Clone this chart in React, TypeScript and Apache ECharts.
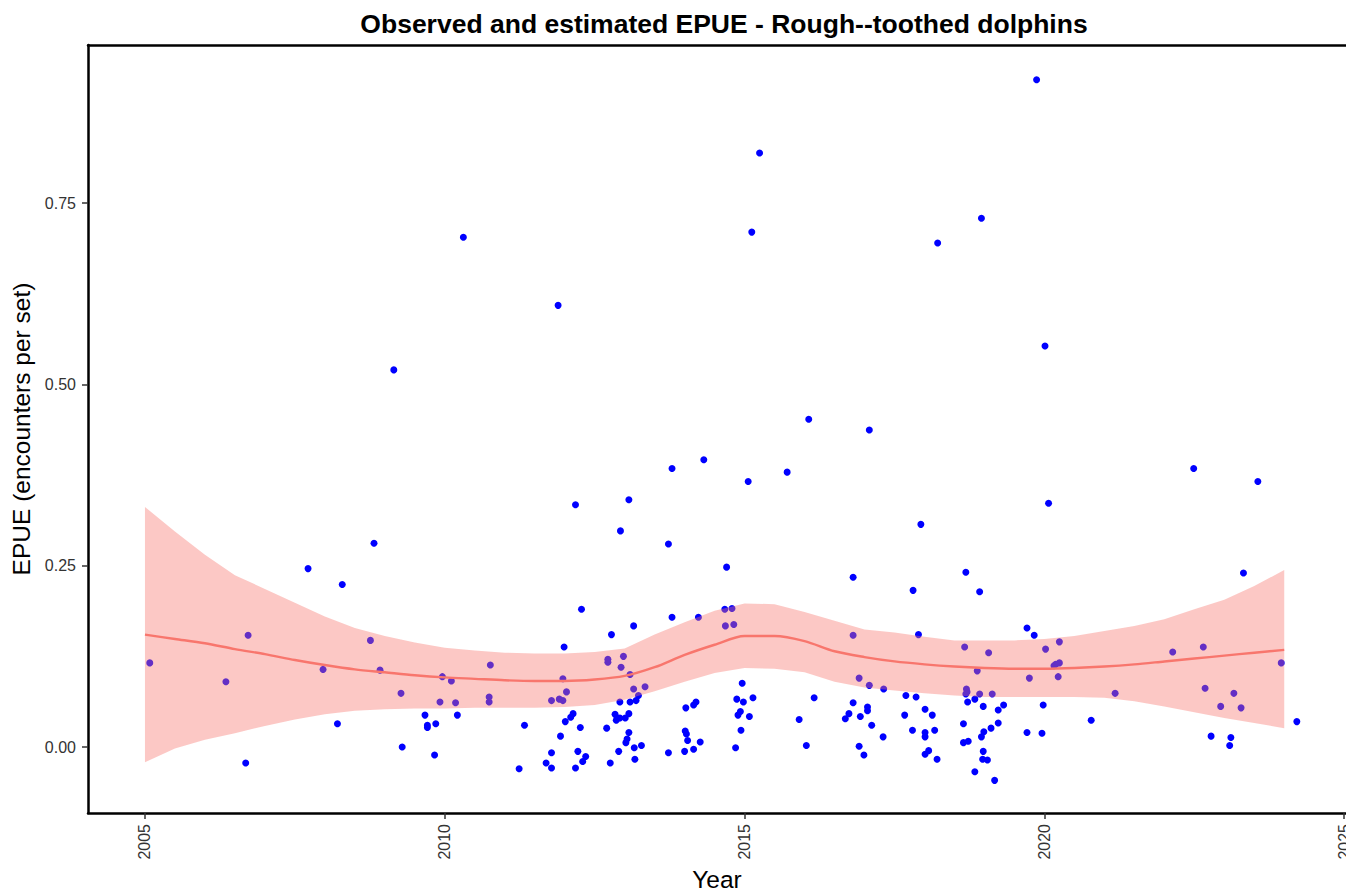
import React, { useEffect, useRef } from "react";
import * as echarts from "echarts";

const TITLE = "Observed and estimated EPUE - Rough--toothed dolphins";
const X_NAME = "Year";
const Y_NAME = "EPUE (encounters per set)";
const X_TICKS = [2005, 2010, 2015, 2020, 2025];
const Y_TICKS = [0, 0.25, 0.5, 0.75];

// observed EPUE points [year, value]
const OBSERVED: [number, number][] = [
  [2005.08, 0.116], [2006.35, 0.090], [2006.68, -0.022], [2006.72, 0.154],
  [2007.72, 0.246], [2007.97, 0.107], [2008.21, 0.032], [2008.29, 0.224],
  [2008.76, 0.147], [2008.82, 0.281], [2008.92, 0.106], [2009.15, 0.520],
  [2009.27, 0.074], [2009.29, 0.000], [2009.67, 0.044], [2009.71, 0.030],
  [2009.71, 0.027], [2009.83, -0.011], [2009.85, 0.032], [2009.92, 0.062],
  [2009.96, 0.097], [2010.11, 0.091], [2010.18, 0.061], [2010.21, 0.044],
  [2010.31, 0.703], [2010.74, 0.069], [2010.74, 0.062], [2010.76, 0.113],
  [2011.24, -0.030], [2011.33, 0.030], [2011.69, -0.022], [2011.78, 0.064],
  [2011.78, -0.008], [2011.78, -0.029], [2011.89, 0.609], [2011.91, 0.066],
  [2011.93, 0.015], [2011.97, 0.094], [2011.97, 0.064], [2011.99, 0.138],
  [2012.01, 0.035], [2012.03, 0.076], [2012.10, 0.041], [2012.14, 0.046],
  [2012.18, 0.334], [2012.18, -0.029], [2012.22, -0.006], [2012.26, 0.027],
  [2012.28, 0.190], [2012.30, -0.020], [2012.35, -0.013], [2012.70, 0.026],
  [2012.72, 0.121], [2012.72, 0.117], [2012.76, -0.022], [2012.78, 0.155],
  [2012.84, 0.045], [2012.86, 0.037], [2012.90, -0.006], [2012.92, 0.062],
  [2012.92, 0.040], [2012.93, 0.298], [2012.94, 0.110], [2012.98, 0.125],
  [2013.01, 0.040], [2013.02, 0.006], [2013.04, 0.011], [2013.07, 0.341],
  [2013.07, 0.046], [2013.07, 0.020], [2013.09, 0.100], [2013.09, 0.062],
  [2013.15, 0.167], [2013.15, 0.080], [2013.16, -0.001], [2013.17, -0.017],
  [2013.19, 0.064], [2013.23, 0.071], [2013.28, 0.002], [2013.34, 0.083],
  [2013.73, 0.280], [2013.73, -0.008], [2013.79, 0.384], [2013.79, 0.179],
  [2014.00, -0.006], [2014.01, 0.022], [2014.02, 0.054], [2014.03, 0.018],
  [2014.05, 0.009], [2014.15, 0.058], [2014.15, -0.003], [2014.19, 0.062],
  [2014.23, 0.179], [2014.26, 0.007], [2014.32, 0.396], [2014.67, 0.190],
  [2014.68, 0.167], [2014.70, 0.248], [2014.79, 0.191], [2014.82, 0.169],
  [2014.85, -0.001], [2014.87, 0.066], [2014.89, 0.044], [2014.93, 0.049],
  [2014.94, 0.023], [2014.96, 0.088], [2014.98, 0.062], [2015.06, 0.366],
  [2015.08, 0.042], [2015.12, 0.710], [2015.14, 0.068], [2015.25, 0.819],
  [2015.71, 0.379], [2015.91, 0.038], [2016.03, 0.002], [2016.07, 0.452],
  [2016.16, 0.068], [2016.68, 0.039], [2016.74, 0.046], [2016.81, 0.234],
  [2016.81, 0.154], [2016.81, 0.061], [2016.91, 0.095], [2016.91, 0.001],
  [2016.93, 0.042], [2016.99, -0.011], [2017.05, 0.055], [2017.05, 0.050],
  [2017.08, 0.437], [2017.08, 0.085], [2017.12, 0.030], [2017.31, 0.014],
  [2017.32, 0.080], [2017.67, 0.044], [2017.69, 0.071], [2017.80, 0.023],
  [2017.81, 0.216], [2017.86, 0.069], [2017.90, 0.155], [2017.94, 0.307],
  [2018.01, 0.052], [2018.01, 0.020], [2018.01, 0.014], [2018.01, -0.010],
  [2018.07, -0.005], [2018.13, 0.044], [2018.17, 0.023], [2018.21, -0.017],
  [2018.22, 0.695], [2018.65, 0.032], [2018.65, 0.006], [2018.67, 0.138],
  [2018.69, 0.241], [2018.70, 0.080], [2018.71, 0.076], [2018.69, 0.073],
  [2018.72, 0.062], [2018.73, 0.008], [2018.84, 0.066], [2018.84, -0.034],
  [2018.88, 0.105], [2018.92, 0.214], [2018.92, 0.073], [2018.95, 0.729],
  [2018.95, 0.014], [2018.97, -0.017], [2018.98, 0.056], [2018.98, -0.006],
  [2018.99, 0.021], [2019.05, -0.018], [2019.07, 0.130], [2019.11, 0.026],
  [2019.13, 0.073], [2019.17, -0.046], [2019.23, 0.051], [2019.23, 0.033],
  [2019.32, 0.058], [2019.71, 0.164], [2019.71, 0.020], [2019.75, 0.095],
  [2019.83, 0.154], [2019.87, 0.920], [2019.96, 0.019], [2019.98, 0.058],
  [2020.01, 0.553], [2020.02, 0.135], [2020.07, 0.336], [2020.16, 0.112],
  [2020.19, 0.114], [2020.23, 0.097], [2020.25, 0.145], [2020.25, 0.116],
  [2020.78, 0.037], [2021.18, 0.074], [2022.14, 0.131], [2022.49, 0.384],
  [2022.65, 0.138], [2022.68, 0.081], [2022.78, 0.015], [2022.94, 0.056],
  [2023.09, 0.002], [2023.11, 0.013], [2023.16, 0.074], [2023.28, 0.054],
  [2023.32, 0.240], [2023.56, 0.366], [2023.95, 0.116], [2024.21, 0.035],
];

// smoother estimate and confidence band
const FIT_YEARS = [
  2005, 2005.5, 2006, 2006.5, 2007, 2007.5, 2008, 2008.5, 2009, 2009.5,
  2010, 2010.5, 2011, 2011.5, 2012, 2012.5, 2013, 2013.5, 2014, 2014.5,
  2015, 2015.5, 2016, 2016.5, 2017, 2017.5, 2018, 2018.5, 2019, 2019.5,
  2020, 2020.5, 2021, 2021.5, 2022, 2022.5, 2023, 2023.5, 2024,
];
const FIT = [
  0.155, 0.149, 0.143, 0.135, 0.128, 0.120, 0.113, 0.107, 0.103, 0.099,
  0.096, 0.094, 0.092, 0.091, 0.091, 0.093, 0.098, 0.110, 0.127, 0.141,
  0.153, 0.153, 0.146, 0.132, 0.124, 0.118, 0.114, 0.111, 0.109, 0.108,
  0.108, 0.109, 0.111, 0.114, 0.118, 0.122, 0.126, 0.130, 0.134,
];
const UPPER = [
  0.331, 0.297, 0.265, 0.237, 0.218, 0.199, 0.180, 0.164, 0.153, 0.144,
  0.137, 0.133, 0.130, 0.129, 0.129, 0.131, 0.136, 0.155, 0.172, 0.188,
  0.198, 0.197, 0.186, 0.174, 0.162, 0.158, 0.152, 0.147, 0.147, 0.147,
  0.149, 0.153, 0.160, 0.167, 0.176, 0.190, 0.203, 0.222, 0.244,
];
const LOWER = [
  -0.021, -0.002, 0.010, 0.019, 0.029, 0.038, 0.045, 0.050, 0.052, 0.053,
  0.053, 0.054, 0.054, 0.054, 0.055, 0.058, 0.065, 0.077, 0.090, 0.102,
  0.109, 0.108, 0.103, 0.090, 0.082, 0.078, 0.074, 0.071, 0.069, 0.069,
  0.069, 0.069, 0.068, 0.063, 0.056, 0.048, 0.040, 0.033, 0.026,
];

const X_MIN = 2004.05;
const X_MAX = 2025.03;
const Y_MIN = -0.091;
const Y_MAX = 0.968;

const FONT = "'Liberation Sans', Arial, Helvetica, sans-serif";

export default function App() {
  const ref = useRef<HTMLDivElement>(null);

  useEffect(() => {
    if (!ref.current) return;
    const chart = echarts.init(ref.current, undefined, { renderer: "svg" });

    const bandData = FIT_YEARS.map((x, i) => [x, LOWER[i], UPPER[i]]);
    const fitData = FIT_YEARS.map((x, i) => [x, FIT[i]]);

    const renderBand = (params: any, api: any) => {
      if (params.dataIndex !== 0) return null;
      const top: number[][] = [];
      const bottom: number[][] = [];
      for (let i = 0; i < FIT_YEARS.length; i++) {
        top.push(api.coord([FIT_YEARS[i], UPPER[i]]));
        bottom.push(api.coord([FIT_YEARS[i], LOWER[i]]));
      }
      const points = top.concat(bottom.reverse());
      return {
        type: "polygon",
        shape: { points },
        style: { fill: "rgba(248,118,109,0.4)", stroke: "none" },
        silent: true,
      };
    };

    chart.setOption({
      animation: false,
      backgroundColor: "#ffffff",
      title: {
        text: TITLE,
        left: 719,
        top: 5,
        textAlign: "center",
        textStyle: {
          fontFamily: FONT,
          fontSize: 26.5,
          fontWeight: "bold",
          color: "#000000",
        },
      },
      grid: {
        left: 88,
        right: 0,
        top: 45,
        bottom: 80,
        containLabel: false,
        outerBoundsMode: "none",
      },
      xAxis: [
        {
          type: "value",
          min: X_MIN,
          max: X_MAX,
          name: X_NAME,
          nameLocation: "middle",
          nameGap: 49,
          nameTextStyle: { fontFamily: FONT, fontSize: 24.5, color: "#000000" },
          axisLine: { show: true, onZero: false, lineStyle: { color: "#000000", width: 2.5 } },
          axisTick: {
            show: true,
            length: 6,
            customValues: X_TICKS,
            lineStyle: { color: "#333333", width: 1.5 },
          },
          axisLabel: {
            customValues: X_TICKS,
            rotate: 90,
            margin: 11,
            fontFamily: FONT,
            fontSize: 16,
            color: "#333333",
            formatter: (v: number) => String(Math.round(v)),
          },
          splitLine: { show: false },
        },
        {
          type: "value",
          position: "top",
          min: X_MIN,
          max: X_MAX,
          axisLine: { show: true, onZero: false, lineStyle: { color: "#000000", width: 2.5 } },
          axisTick: { show: false },
          axisLabel: { show: false },
          splitLine: { show: false },
        },
      ],
      yAxis: {
        type: "value",
        min: Y_MIN,
        max: Y_MAX,
        name: Y_NAME,
        nameLocation: "middle",
        nameRotate: 90,
        nameGap: 40,
        nameTextStyle: { fontFamily: FONT, fontSize: 24.5, color: "#000000" },
        axisLine: { show: true, onZero: false, lineStyle: { color: "#000000", width: 2.5 } },
        axisTick: {
          show: true,
          length: 6,
          customValues: Y_TICKS,
          lineStyle: { color: "#333333", width: 1.5 },
        },
        axisLabel: {
          customValues: Y_TICKS,
          margin: 12,
          fontFamily: FONT,
          fontSize: 16,
          color: "#333333",
          formatter: (v: number) => v.toFixed(2),
        },
        splitLine: { show: false },
      },
      series: [
        {
          type: "scatter",
          name: "observed",
          data: OBSERVED,
          symbol: "circle",
          symbolSize: 7,
          itemStyle: { color: "#0000FF", opacity: 1 },
          z: 1,
        },
        {
          type: "custom",
          name: "band",
          data: bandData,
          renderItem: renderBand,
          encode: { x: 0, y: [1, 2] },
          silent: true,
          z: 2,
        },
        {
          type: "line",
          name: "fit",
          data: fitData,
          symbol: "none",
          smooth: 0.3,
          lineStyle: { color: "#F8766D", width: 2.4 },
          z: 3,
        },
      ],
    });

    return () => chart.dispose();
  }, []);

  return (
    <div
      ref={ref}
      style={{ position: "fixed", left: 0, top: 0, width: 1346, height: 893 }}
    />
  );
}
